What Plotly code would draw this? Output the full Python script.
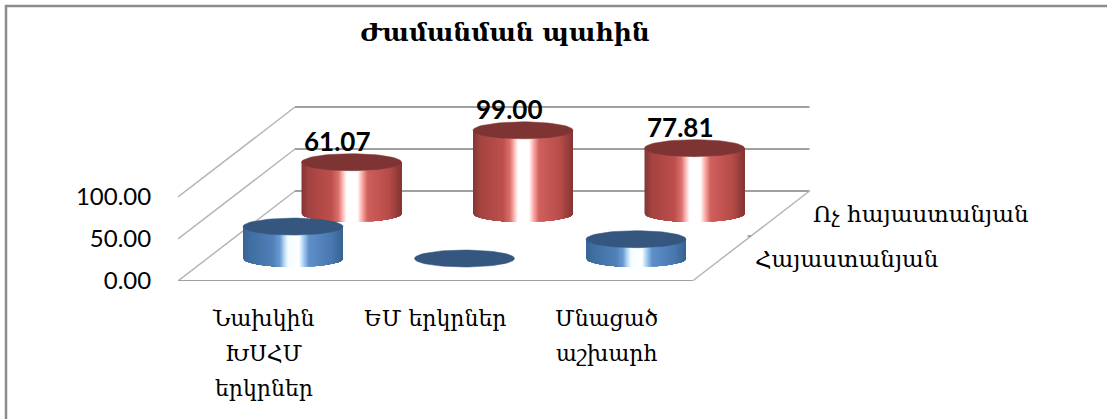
import math
import plotly.graph_objects as go

# ---------- data ----------
category_lines = [["Նախկին", "ԽՍՀՄ", "երկրներ"], ["ԵՄ երկրներ"], ["Մնացած", "աշխարհ"]]
series_names = ["Հայաստանյան", "Ոչ հայաստանյան"]
armenian_values = [38.0, 0.0, 23.0]
foreign_values = [61.07, 99.00, 77.81]
foreign_labels = ["61.07", "99.00", "77.81"]
y_ticks = [0, 50, 100]
y_tick_labels = ["0.00", "50.00", "100.00"]
title_text = "Ժամանման պահին"

# ---------- projection (oblique) ----------
PX_X = 171.5        # px per category
PX_Y = 0.84         # px per value unit
L, T, W, H = 178, 0, 1107 - 178, 281
DEPTH_X = 117 / PX_X
DEPTH_Y = 90 / PX_Y
RX = 50 / PX_X
RY = 8.5 / PX_Y
SERIF = "DejaVu Serif"
SANS = "Lato"
GRID = "#a6a6a6"

RED_STOPS = [(0, "#823533"), (.07, "#a34341"), (.3, "#bd4f4c"), (.37, "#d9706d"), (.41, "#fbb5b2"),
             (.45, "#ffffff"), (.56, "#ffffff"), (.60, "#ffb3b0"), (.66, "#cf5f5c"), (.88, "#b54b48"), (1, "#813432")]
BLUE_STOPS = [(0, "#376396"), (.07, "#3f6e9f"), (.3, "#5080b8"), (.37, "#6a9ad2"), (.41, "#b4d6f4"),
              (.45, "#f4fcff"), (.56, "#ffffff"), (.60, "#aed5f5"), (.66, "#5d8ec8"), (.88, "#4a79b0"), (1, "#36628f")]
RED_TOP = "#7d3432"
BLUE_TOP = "#35577f"
N = 100


def rgb(h):
    return tuple(int(h[i:i + 2], 16) for i in (1, 3, 5))


def grad(stops, t):
    for (a, ca), (b, cb) in zip(stops, stops[1:]):
        if t <= b:
            f = (t - a) / (b - a)
            c1, c2 = rgb(ca), rgb(cb)
            return "rgb(%d,%d,%d)" % tuple(round(p + (q - p) * f) for p, q in zip(c1, c2))
    return stops[-1][1]


def proj(cat, depth, value):
    return cat + depth * DEPTH_X, value + depth * DEPTH_Y


traces = []


def line(xs, ys, color=GRID, width=1.5):
    traces.append(go.Scatter(x=xs, y=ys, mode="lines", line=dict(color=color, width=width),
                             hoverinfo="skip", showlegend=False, cliponaxis=False))


# floor and walls
for v in y_ticks:
    x0, y0 = proj(0, 0, v)
    x1, y1 = proj(0, 1, v)
    x2, y2 = proj(3, 1, v)
    line([x0, x1], [y0, y1], color="#b4b4b4", width=1.4)
    line([x1, x2], [y1, y2], color="#a0a0a0", width=2)
fx, fy = proj(3, 0, 0)
bx, by = proj(3, 1, 0)
line([0, fx], [0, fy], color="#a0a0a0", width=2)
line([fx, bx], [fy, by], color="#b4b4b4", width=1.4)
mx, my = proj(3, .5, 0)
line([mx - 0.02, mx], [my, my], color="#8c8c8c")


def cylinder(cat, depth, value, stops, top_color):
    cx, base = proj(cat + .5, depth, 0)
    top = base + value
    grid = [-1 + 2 * i / N for i in range(N + 1)]
    front = [math.sqrt(max(0, 1 - s * s)) * RY for s in grid]
    if value > 0:
        # each strip reaches to the right edge; later strips paint over, so no seams appear
        for i in range(N):
            xs = [cx + s * RX for s in grid[i:]]
            up = [top - f for f in front[i:]]
            down = [base - f for f in front[i:]]
            traces.append(go.Scatter(x=xs + xs[::-1] + xs[:1], y=up + down[::-1] + up[:1],
                                     mode="lines", fill="toself", fillcolor=grad(stops, (i + .5) / N),
                                     line=dict(width=0), hoverinfo="skip", showlegend=False))
    n = 72
    angles = [2 * math.pi * i / n for i in range(n + 1)]
    traces.append(go.Scatter(x=[cx + math.cos(a) * RX for a in angles], y=[top + math.sin(a) * RY for a in angles],
                             mode="lines", fill="toself", fillcolor=top_color,
                             line=dict(color=top_color, width=.5),
                             hoverinfo="skip", showlegend=False))


for i, v in enumerate(foreign_values):
    cylinder(i, .75, v, RED_STOPS, RED_TOP)
for i, v in enumerate(armenian_values):
    cylinder(i, .25, v, BLUE_STOPS, BLUE_TOP)

fig = go.Figure(traces)

ann = []
# value labels
for i, (v, t) in enumerate(zip(foreign_values, foreign_labels)):
    x, y = proj(i + .5, .75, v)
    ann.append(dict(x=x - 14 / PX_X, y=y + 21 / PX_Y, text="<b>%s</b>" % t, showarrow=False,
                    xanchor="center", yanchor="middle",
                    font=dict(family=SANS, size=26, color="#000")))
# category labels (line by line, for the wide leading of the original)
for i, lines in enumerate(category_lines):
    for j, t in enumerate(lines):
        ann.append(dict(x=i + .5, yref="paper", y=-(37 + 35 * j) / H, text=t, showarrow=False,
                        xanchor="center", yanchor="middle",
                        font=dict(family=SERIF, size=22, color="#000")))
# series labels on the depth axis
for d, t in zip([.25, .75], series_names):
    x, y = proj(3, d, 0)
    ann.append(dict(x=x + 31 / PX_X, y=y, text=t, showarrow=False, xanchor="left", yanchor="middle",
                    font=dict(family=SERIF, size=23, color="#000")))

fig.update_layout(
    width=1107, height=419, margin=dict(l=L, r=0, t=T, b=419 - H),
    paper_bgcolor="white", plot_bgcolor="white", showlegend=False,
    font=dict(family=SANS, color="#000"),
    title=dict(text="<b>%s</b>" % title_text, x=505 / 1107, y=1 - 32 / 419, xanchor="center", yanchor="middle",
               xref="container", yref="container", font=dict(family=SERIF, size=25, color="#000")),
    xaxis=dict(range=[0, W / PX_X], visible=False, fixedrange=True),
    yaxis=dict(range=[0, H / PX_Y], tickvals=y_ticks, ticktext=y_tick_labels, showgrid=False, zeroline=False,
               showline=False, ticks="outside", ticklen=21, tickcolor="rgba(0,0,0,0)",
               tickfont=dict(family=SANS, size=24, color="#000"), fixedrange=True),
    annotations=ann,
    shapes=[dict(type="path", xref="paper", yref="paper",
                 path="M %f %f L %f %f L %f %f" % ((6 - L) / W, -(419 - H + 5) / H, (6 - L) / W, (H - 6) / H,
                                                    (1107 - L) / W, (H - 6) / H),
                 line=dict(color="#8c8c8c", width=2.5))],
)

fig.write_html("out.html", config=dict(displayModeBar=False),
               post_script="document.body.style.margin='0';document.body.style.overflow='hidden';")
